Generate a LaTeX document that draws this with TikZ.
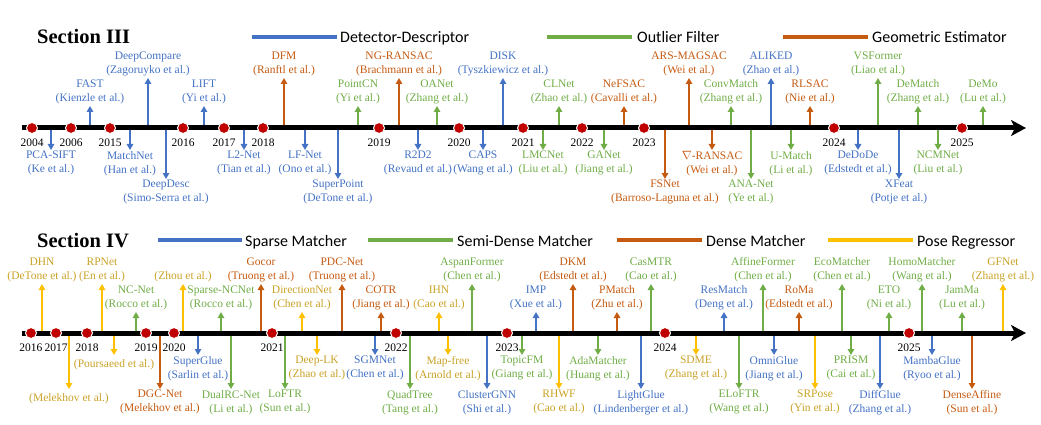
\documentclass[tikz,border=0pt]{standalone}
\usepackage{fontspec}
\setmainfont{Liberation Serif}
\newfontfamily\legendfont{Carlito}
\usetikzlibrary{arrows.meta,positioning}
\definecolor{Blue}{HTML}{4472C4}
\definecolor{Green}{HTML}{70AD47}
\definecolor{Orange}{HTML}{C55A11}
\definecolor{Gold}{HTML}{FFC000}
\definecolor{GoldText}{HTML}{C9A227}
\definecolor{DotRed}{HTML}{C00000}
\tikzset{
  lbl/.style={font=\fontsize{11.5}{14}\selectfont,align=center,inner sep=1pt,text=#1},
  lblup/.style={lbl=#1,anchor=south,inner ysep=0pt,execute at begin node=\strut,execute at end node={\rule[-3.5pt]{0pt}{3.5pt}}},
  lbldn/.style={lbl=#1,anchor=north,execute at begin node={\rule{0pt}{11.5pt}},execute at end node=\strut},
  mstem/.style={draw=#1,line width=2pt,-{Triangle[length=6pt,width=6.5pt]}},
  axisline/.style={draw=black,line width=5pt,-{Stealth[length=15pt,width=16pt,inset=4pt]}},
  yeardot/.style={circle,fill=DotRed,draw=white,line width=1pt,minimum size=11pt,inner sep=0pt},
  yearlbl/.style={font=\fontsize{11.5}{14}\selectfont,inner sep=1pt},
  legline/.style={draw=#1,line width=4pt},
  legtext/.style={font=\legendfont\fontsize{16}{18}\selectfont,anchor=base west,inner sep=0pt},
  heading/.style={font=\fontsize{20.5}{24}\selectfont\bfseries,anchor=base west,inner sep=0pt}
}

\begin{document}
\begin{tikzpicture}[x=1pt,y=-1pt]
  \useasboundingbox (0,0) rectangle (1041,425);

  % Section III: headings and legend
  \node[heading] (secthree) at (37,44) {Section III};
  \coordinate (ddA) at (252,37.5);
  \coordinate (ddB) at (337,37.5);
  \coordinate (ofA) at (547,37.5);
  \coordinate (ofB) at (632,37.5);
  \coordinate (geA) at (783,37.5);
  \coordinate (geB) at (868,37.5);
  \draw[legline=Blue] (ddA) -- (ddB);
  \draw[legline=Green] (ofA) -- (ofB);
  \draw[legline=Orange] (geA) -- (geB);
  \node[legtext] (legdd) at (340,43) {Detector-Descriptor};
  \node[legtext] (legof) at (637,43) {Outlier Filter};
  \node[legtext] (legge) at (872,43) {Geometric Estimator};

  \coordinate (axA) at (22,128);
  \coordinate (axAend) at (1026,128);

  \node[lbldn=Blue] (pcasift) at (51,150) {PCA-SIFT\\(Ke et al.)};
  \draw[mstem=Blue] (pcasift.north |- axA) -- (pcasift.north);
  \node[lblup=Blue] (fast) at (90,106) {FAST\\(Kienzle et al.)};
  \draw[mstem=Blue] (fast.south |- axA) -- (fast.south);
  \node[lbldn=Blue] (matchnet) at (130,150) {MatchNet\\(Han et al.)};
  \draw[mstem=Blue] (matchnet.north |- axA) -- (matchnet.north);
  \node[lblup=Blue] (deepcompare) at (148,78) {DeepCompare\\(Zagoruyko et al.)};
  \draw[mstem=Blue] (deepcompare.south |- axA) -- (deepcompare.south);
  \node[lbldn=Blue] (deepdesc) at (166,179) {DeepDesc\\(Simo-Serra et al.)};
  \draw[mstem=Blue] (deepdesc.north |- axA) -- (deepdesc.north);
  \node[lblup=Blue] (lift) at (204,106) {LIFT\\(Yi et al.)};
  \draw[mstem=Blue] (lift.south |- axA) -- (lift.south);
  \node[lbldn=Blue] (ltwonet) at (244,150) {L2-Net\\(Tian et al.)};
  \draw[mstem=Blue] (ltwonet.north |- axA) -- (ltwonet.north);
  \node[lblup=Orange] (dfm) at (284,78) {DFM\\(Ranftl et al.)};
  \draw[mstem=Orange] (dfm.south |- axA) -- (dfm.south);
  \node[lbldn=Blue] (lfnet) at (305,150) {LF-Net\\(Ono et al.)};
  \draw[mstem=Blue] (lfnet.north |- axA) -- (lfnet.north);
  \node[lbldn=Blue] (superpoint) at (338,179) {SuperPoint\\(DeTone et al.)};
  \draw[mstem=Blue] (superpoint.north |- axA) -- (superpoint.north);
  \node[lblup=Green] (pointcn) at (358,106) {PointCN\\(Yi et al.)};
  \draw[mstem=Green] (pointcn.south |- axA) -- (pointcn.south);
  \node[lblup=Orange] (ngransac) at (399,78) {NG-RANSAC\\(Brachmann et al.)};
  \draw[mstem=Orange] (ngransac.south |- axA) -- (ngransac.south);
  \node[lbldn=Blue] (rtwodtwo) at (418,150) {R2D2\\(Revaud et al.)};
  \draw[mstem=Blue] (rtwodtwo.north |- axA) -- (rtwodtwo.north);
  \node[lblup=Green] (oanet) at (437,106) {OANet\\(Zhang et al.)};
  \draw[mstem=Green] (oanet.south |- axA) -- (oanet.south);
  \node[lbldn=Blue] (caps) at (483,150) {CAPS\\(Wang et al.)};
  \draw[mstem=Blue] (caps.north |- axA) -- (caps.north);
  \node[lblup=Blue] (disk) at (503,78) {DISK\\(Tyszkiewicz et al.)};
  \draw[mstem=Blue] (disk.south |- axA) -- (disk.south);
  \node[lbldn=Green] (lmcnet) at (543,150) {LMCNet\\(Liu et al.)};
  \draw[mstem=Green] (lmcnet.north |- axA) -- (lmcnet.north);
  \node[lblup=Green] (clnet) at (559,106) {CLNet\\(Zhao et al.)};
  \draw[mstem=Green] (clnet.south |- axA) -- (clnet.south);
  \node[lbldn=Green] (ganet) at (604,150) {GANet\\(Jiang et al.)};
  \draw[mstem=Green] (ganet.north |- axA) -- (ganet.north);
  \node[lblup=Orange] (nefsac) at (624,106) {NeFSAC\\(Cavalli et al.)};
  \draw[mstem=Orange] (nefsac.south |- axA) -- (nefsac.south);
  \node[lbldn=Orange] (fsnet) at (665,179) {FSNet\\(Barroso-Laguna et al.)};
  \draw[mstem=Orange] (fsnet.north |- axA) -- (fsnet.north);
  \node[lblup=Orange] (arsmagsac) at (689,78) {ARS-MAGSAC\\(Wei et al.)};
  \draw[mstem=Orange] (arsmagsac.south |- axA) -- (arsmagsac.south);
  \node[lbldn=Orange] (nablaransac) at (712,150) {$\nabla$-RANSAC\\(Wei et al.)};
  \draw[mstem=Orange] (nablaransac.north |- axA) -- (nablaransac.north);
  \node[lblup=Green] (convmatch) at (731,106) {ConvMatch\\(Zhang et al.)};
  \draw[mstem=Green] (convmatch.south |- axA) -- (convmatch.south);
  \node[lbldn=Green] (ananet) at (751,179) {ANA-Net\\(Ye et al.)};
  \draw[mstem=Green] (ananet.north |- axA) -- (ananet.north);
  \node[lblup=Blue] (aliked) at (771,78) {ALIKED\\(Zhao et al.)};
  \draw[mstem=Blue] (aliked.south |- axA) -- (aliked.south);
  \node[lbldn=Green] (umatch) at (791,150) {U-Match\\(Li et al.)};
  \draw[mstem=Green] (umatch.north |- axA) -- (umatch.north);
  \node[lblup=Orange] (rlsac) at (810,106) {RLSAC\\(Nie et al.)};
  \draw[mstem=Orange] (rlsac.south |- axA) -- (rlsac.south);
  \node[lbldn=Blue] (dedode) at (858,150) {DeDoDe\\(Edstedt et al.)};
  \draw[mstem=Blue] (dedode.north |- axA) -- (dedode.north);
  \node[lblup=Green] (vsformer) at (878,78) {VSFormer\\(Liao et al.)};
  \draw[mstem=Green] (vsformer.south |- axA) -- (vsformer.south);
  \node[lbldn=Blue] (xfeat) at (899,179) {XFeat\\(Potje et al.)};
  \draw[mstem=Blue] (xfeat.north |- axA) -- (xfeat.north);
  \node[lblup=Green] (dematch) at (918,106) {DeMatch\\(Zhang et al.)};
  \draw[mstem=Green] (dematch.south |- axA) -- (dematch.south);
  \node[lbldn=Green] (ncmnet) at (938,150) {NCMNet\\(Liu et al.)};
  \draw[mstem=Green] (ncmnet.north |- axA) -- (ncmnet.north);
  \node[lblup=Green] (demo) at (983,106) {DeMo\\(Lu et al.)};
  \draw[mstem=Green] (demo.south |- axA) -- (demo.south);

  \draw[axisline] (axA) -- (axAend);

  \node[yeardot] (a2004) at (32,128) {};
  \node[yeardot] (a2006) at (71,128) {};
  \node[yeardot] (a2015) at (110,128) {};
  \node[yeardot] (a2016) at (183,128) {};
  \node[yeardot] (a2017) at (224,128) {};
  \node[yeardot] (a2018) at (263,128) {};
  \node[yeardot] (a2019) at (379,128) {};
  \node[yeardot] (a2020) at (459,128) {};
  \node[yeardot] (a2021) at (523,128) {};
  \node[yeardot] (a2022) at (582,128) {};
  \node[yeardot] (a2023) at (644,128) {};
  \node[yeardot] (a2024) at (834,128) {};
  \node[yeardot] (a2025) at (962,128) {};
  \node[yearlbl,below=3.5pt of a2004] (ya2004) {2004};
  \node[yearlbl,below=3.5pt of a2006] (ya2006) {2006};
  \node[yearlbl,below=3.5pt of a2015] (ya2015) {2015};
  \node[yearlbl,below=3.5pt of a2016] (ya2016) {2016};
  \node[yearlbl,below=3.5pt of a2017] (ya2017) {2017};
  \node[yearlbl,below=3.5pt of a2018] (ya2018) {2018};
  \node[yearlbl,below=3.5pt of a2019] (ya2019) {2019};
  \node[yearlbl,below=3.5pt of a2020] (ya2020) {2020};
  \node[yearlbl,below=3.5pt of a2021] (ya2021) {2021};
  \node[yearlbl,below=3.5pt of a2022] (ya2022) {2022};
  \node[yearlbl,below=3.5pt of a2023] (ya2023) {2023};
  \node[yearlbl,below=3.5pt of a2024] (ya2024) {2024};
  \node[yearlbl,below=3.5pt of a2025] (ya2025) {2025};

  % Section IV: headings and legend
  \node[heading] (secfour) at (37,247) {Section IV};
  \coordinate (spA) at (158,240);
  \coordinate (spB) at (242,240);
  \coordinate (sdA) at (368,240);
  \coordinate (sdB) at (453,240);
  \coordinate (dmA) at (617,240);
  \coordinate (dmB) at (702,240);
  \coordinate (prA) at (828,240);
  \coordinate (prB) at (913,240);
  \draw[legline=Blue] (spA) -- (spB);
  \draw[legline=Green] (sdA) -- (sdB);
  \draw[legline=Orange] (dmA) -- (dmB);
  \draw[legline=Gold] (prA) -- (prB);
  \node[legtext] (legsp) at (245,246) {Sparse Matcher};
  \node[legtext] (legsd) at (457,246) {Semi-Dense Matcher};
  \node[legtext] (legdm) at (706,246) {Dense Matcher};
  \node[legtext] (legpr) at (917,246) {Pose Regressor};

  \coordinate (axB) at (22,333);
  \coordinate (axBend) at (1026,333);

  \node[lblup=GoldText] (dhn) at (42,284) {DHN\\(DeTone et al.)};
  \draw[mstem=Gold] (dhn.south |- axB) -- (dhn.south);
  \node[lbldn=GoldText] (melekhov) at (69,389) {(Melekhov et al.)};
  \draw[mstem=Gold] (melekhov.north |- axB) -- (melekhov.north);
  \node[lblup=GoldText] (rpnet) at (102,284) {RPNet\\(En et al.)};
  \draw[mstem=Gold] (rpnet.south |- axB) -- (rpnet.south);
  \node[lbldn=GoldText] (poursaeed) at (114,355) {(Poursaeed et al.)};
  \draw[mstem=Gold] (poursaeed.north |- axB) -- (poursaeed.north);
  \node[lblup=Green] (ncnet) at (136,312) {NC-Net\\(Rocco et al.)};
  \draw[mstem=Green] (ncnet.south |- axB) -- (ncnet.south);
  \node[lbldn=Orange] (dgcnet) at (160,389) {DGC-Net\\(Melekhov et al.)};
  \draw[mstem=Orange] (dgcnet.north |- axB) -- (dgcnet.north);
  \node[lblup=GoldText] (zhou) at (183,284) {(Zhou et al.)};
  \draw[mstem=Gold] (zhou.south |- axB) -- (zhou.south);
  \node[lbldn=Blue] (superglue) at (198,355) {SuperGlue\\(Sarlin et al.)};
  \draw[mstem=Blue] (superglue.north |- axB) -- (superglue.north);
  \node[lblup=Green] (sparsencnet) at (221,312) {Sparse-NCNet\\(Rocco et al.)};
  \draw[mstem=Green] (sparsencnet.south |- axB) -- (sparsencnet.south);
  \node[lbldn=Green] (dualrcnet) at (231,389) {DualRC-Net\\(Li et al.)};
  \draw[mstem=Green] (dualrcnet.north |- axB) -- (dualrcnet.north);
  \node[lblup=Orange] (gocor) at (261,284) {Gocor\\(Truong et al.)};
  \draw[mstem=Orange] (gocor.south |- axB) -- (gocor.south);
  \node[lbldn=Green] (loftr) at (285,389) {LoFTR\\(Sun et al.)};
  \draw[mstem=Green] (loftr.north |- axB) -- (loftr.north);
  \node[lblup=GoldText] (directionnet) at (302,312) {DirectionNet\\(Chen et al.)};
  \draw[mstem=Gold] (directionnet.south |- axB) -- (directionnet.south);
  \node[lbldn=GoldText] (deeplk) at (317,355) {Deep-LK\\(Zhao et al.)};
  \draw[mstem=Gold] (deeplk.north |- axB) -- (deeplk.north);
  \node[lblup=Orange] (pdcnet) at (342,284) {PDC-Net\\(Truong et al.)};
  \draw[mstem=Orange] (pdcnet.south |- axB) -- (pdcnet.south);
  \node[lbldn=Blue] (sgmnet) at (375,355) {SGMNet\\(Chen et al.)};
  \draw[mstem=Blue] (sgmnet.north |- axB) -- (sgmnet.north);
  \node[lblup=Orange] (cotr) at (381,312) {COTR\\(Jiang et al.)};
  \draw[mstem=Orange] (cotr.south |- axB) -- (cotr.south);
  \node[lbldn=Green] (quadtree) at (410,389) {QuadTree\\(Tang et al.)};
  \draw[mstem=Green] (quadtree.north |- axB) -- (quadtree.north);
  \node[lblup=GoldText] (ihn) at (439,312) {IHN\\(Cao et al.)};
  \draw[mstem=Gold] (ihn.south |- axB) -- (ihn.south);
  \node[lbldn=GoldText] (mapfree) at (448,355) {Map-free\\(Arnold et al.)};
  \draw[mstem=Gold] (mapfree.north |- axB) -- (mapfree.north);
  \node[lblup=Green] (aspanformer) at (472,284) {AspanFormer\\(Chen et al.)};
  \draw[mstem=Green] (aspanformer.south |- axB) -- (aspanformer.south);
  \node[lbldn=Blue] (clustergnn) at (487,389) {ClusterGNN\\(Shi et al.)};
  \draw[mstem=Blue] (clustergnn.north |- axB) -- (clustergnn.north);
  \node[lbldn=Green] (topicfm) at (522,355) {TopicFM\\(Giang et al.)};
  \draw[mstem=Green] (topicfm.north |- axB) -- (topicfm.north);
  \node[lblup=Blue] (imp) at (536,312) {IMP\\(Xue et al.)};
  \draw[mstem=Blue] (imp.south |- axB) -- (imp.south);
  \node[lbldn=GoldText] (rhwf) at (559,389) {RHWF\\(Cao et al.)};
  \draw[mstem=Gold] (rhwf.north |- axB) -- (rhwf.north);
  \node[lblup=Orange] (dkm) at (573,284) {DKM\\(Edstedt et al.)};
  \draw[mstem=Orange] (dkm.south |- axB) -- (dkm.south);
  \node[lbldn=Green] (adamatcher) at (598,355) {AdaMatcher\\(Huang et al.)};
  \draw[mstem=Green] (adamatcher.north |- axB) -- (adamatcher.north);
  \node[lblup=Orange] (pmatch) at (617,312) {PMatch\\(Zhu et al.)};
  \draw[mstem=Orange] (pmatch.south |- axB) -- (pmatch.south);
  \node[lbldn=Blue] (lightglue) at (641,389) {LightGlue\\(Lindenberger et al.)};
  \draw[mstem=Blue] (lightglue.north |- axB) -- (lightglue.north);
  \node[lblup=Green] (casmtr) at (651,284) {CasMTR\\(Cao et al.)};
  \draw[mstem=Green] (casmtr.south |- axB) -- (casmtr.south);
  \node[lbldn=GoldText] (sdme) at (696,355) {SDME\\(Zhang et al.)};
  \draw[mstem=Gold] (sdme.north |- axB) -- (sdme.north);
  \node[lblup=Blue] (resmatch) at (724,312) {ResMatch\\(Deng et al.)};
  \draw[mstem=Blue] (resmatch.south |- axB) -- (resmatch.south);
  \node[lbldn=Green] (eloftr) at (739,389) {ELoFTR\\(Wang et al.)};
  \draw[mstem=Green] (eloftr.north |- axB) -- (eloftr.north);
  \node[lblup=Green] (affineformer) at (763,284) {AffineFormer\\(Chen et al.)};
  \draw[mstem=Green] (affineformer.south |- axB) -- (affineformer.south);
  \node[lbldn=Blue] (omniglue) at (774,355) {OmniGlue\\(Jiang et al.)};
  \draw[mstem=Blue] (omniglue.north |- axB) -- (omniglue.north);
  \node[lblup=Orange] (roma) at (799,312) {RoMa\\(Edstedt et al.)};
  \draw[mstem=Orange] (roma.south |- axB) -- (roma.south);
  \node[lbldn=GoldText] (srpose) at (815,389) {SRPose\\(Yin et al.)};
  \draw[mstem=Gold] (srpose.north |- axB) -- (srpose.north);
  \node[lblup=Green] (ecomatcher) at (842,284) {EcoMatcher\\(Chen et al.)};
  \draw[mstem=Green] (ecomatcher.south |- axB) -- (ecomatcher.south);
  \node[lbldn=Green] (prism) at (851,355) {PRISM\\(Cai et al.)};
  \draw[mstem=Green] (prism.north |- axB) -- (prism.north);
  \node[lbldn=Blue] (diffglue) at (880,389) {DiffGlue\\(Zhang et al.)};
  \draw[mstem=Blue] (diffglue.north |- axB) -- (diffglue.north);
  \node[lblup=Green] (eto) at (889,312) {ETO\\(Ni et al.)};
  \draw[mstem=Green] (eto.south |- axB) -- (eto.south);
  \node[lblup=Green] (homomatcher) at (922,284) {HomoMatcher\\(Wang et al.)};
  \draw[mstem=Green] (homomatcher.south |- axB) -- (homomatcher.south);
  \node[lbldn=Blue] (mambaglue) at (932,355) {MambaGlue\\(Ryoo et al.)};
  \draw[mstem=Blue] (mambaglue.north |- axB) -- (mambaglue.north);
  \node[lblup=Green] (jamma) at (962,312) {JamMa\\(Lu et al.)};
  \draw[mstem=Green] (jamma.south |- axB) -- (jamma.south);
  \node[lbldn=Orange] (denseaffine) at (972,389) {DenseAffine\\(Sun et al.)};
  \draw[mstem=Orange] (denseaffine.north |- axB) -- (denseaffine.north);
  \node[lblup=GoldText] (gfnet) at (1003,284) {GFNet\\(Zhang et al.)};
  \draw[mstem=Gold] (gfnet.south |- axB) -- (gfnet.south);

  \draw[axisline] (axB) -- (axBend);

  \node[yeardot] (b2016) at (31,333) {};
  \node[yeardot] (b2017) at (56,333) {};
  \node[yeardot] (b2018) at (87,333) {};
  \node[yeardot] (b2019) at (146,333) {};
  \node[yeardot] (b2020) at (174,333) {};
  \node[yeardot] (b2021) at (272,333) {};
  \node[yeardot] (b2022) at (396,333) {};
  \node[yeardot] (b2023) at (507,333) {};
  \node[yeardot] (b2024) at (665,333) {};
  \node[yeardot] (b2025) at (909,333) {};
  \node[yearlbl,below=4pt of b2016] (yb2016) {2016};
  \node[yearlbl,below=4pt of b2017] (yb2017) {2017};
  \node[yearlbl,below=4pt of b2018] (yb2018) {2018};
  \node[yearlbl,below=4pt of b2019] (yb2019) {2019};
  \node[yearlbl,below=4pt of b2020] (yb2020) {2020};
  \node[yearlbl,below=4pt of b2021] (yb2021) {2021};
  \node[yearlbl,below=4pt of b2022] (yb2022) {2022};
  \node[yearlbl,below=4pt of b2023] (yb2023) {2023};
  \node[yearlbl,below=4pt of b2024] (yb2024) {2024};
  \node[yearlbl,below=4pt of b2025] (yb2025) {2025};
\end{tikzpicture}
\end{document}
